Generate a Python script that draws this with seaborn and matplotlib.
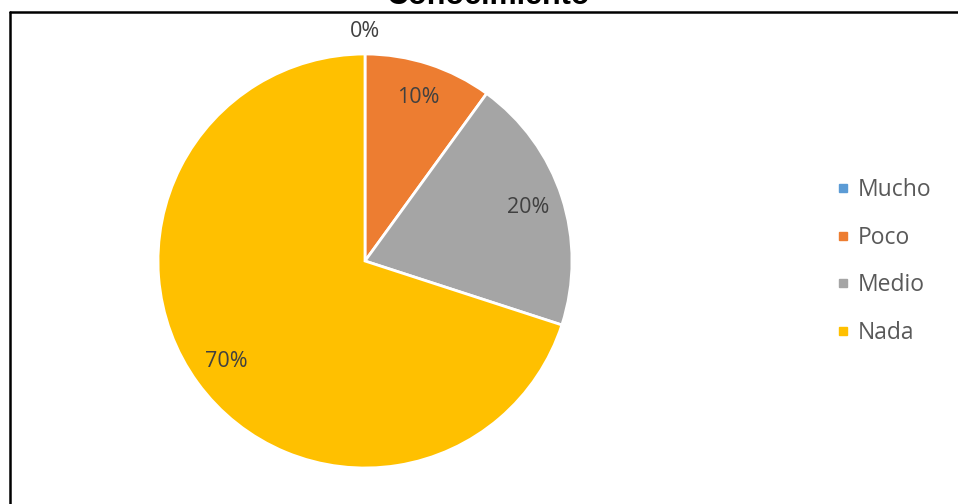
import numpy as np
import matplotlib
matplotlib.use("Agg")
import matplotlib.pyplot as plt
from matplotlib.lines import Line2D
import seaborn as sns

categories = ["Mucho", "Poco", "Medio", "Nada"]
values = [0, 10, 20, 70]
colors = ["#5B9BD5", "#ED7D31", "#A5A5A5", "#FFC000"]
title = "Conocimiento"

sns.set_theme(style="white")
plt.rcParams["font.family"] = ["Open Sans", "DejaVu Sans"]

W, H = 958, 504
fig = plt.figure(figsize=(W / 100, H / 100), dpi=100)

# pie axes: center (365, 261), radius 207 px
cx, cy, r = 365, 261, 207
ax = fig.add_axes([(cx - r) / W, (H - cy - r) / H, 2 * r / W, 2 * r / H])

wedges, texts, autotexts = ax.pie(
    values,
    colors=colors,
    startangle=90,
    counterclock=False,
    autopct=lambda p: f"{p:.0f}%",
    pctdistance=0.83,
    wedgeprops=dict(edgecolor="white", linewidth=2),
    textprops=dict(color="#404040", fontsize=15.5),
)
ax.set_xlim(-1, 1)
ax.set_ylim(-1, 1)
ax.set_aspect("equal")

# zero-sized slice label sits just outside the rim
for w, t, v in zip(wedges, autotexts, values):
    if v == 0:
        ang = np.deg2rad((w.theta1 + w.theta2) / 2)
        t.set_position((1.11 * np.cos(ang), 1.11 * np.sin(ang)))

# legend with small square markers
handles = [Line2D([], [], marker="s", linestyle="none", markersize=5.5,
                  markerfacecolor=c, markeredgecolor=c) for c in colors]
fig.legend(handles, categories, loc="upper left",
           bbox_to_anchor=(826 / W, 1 - 167 / H), frameon=False,
           fontsize=16.5, labelcolor="#595959", handlelength=0.45,
           handletextpad=0.45, labelspacing=1.02, borderpad=0)

# title, partly above the top edge
fig.text(489 / W, 1 - 4 / H, title, ha="center", va="baseline",
         fontsize=22, fontweight="bold", family=["Liberation Sans", "DejaVu Sans"],
         color="black")

# frame lines along top and left
fig.add_artist(Line2D([10 / W, 1], [1 - 12 / H, 1 - 12 / H],
                      transform=fig.transFigure, color="black", linewidth=1.8))
fig.add_artist(Line2D([10 / W, 10 / W], [0, 1 - 12 / H],
                      transform=fig.transFigure, color="black", linewidth=1.8))

fig.savefig("out.png", dpi=100)
